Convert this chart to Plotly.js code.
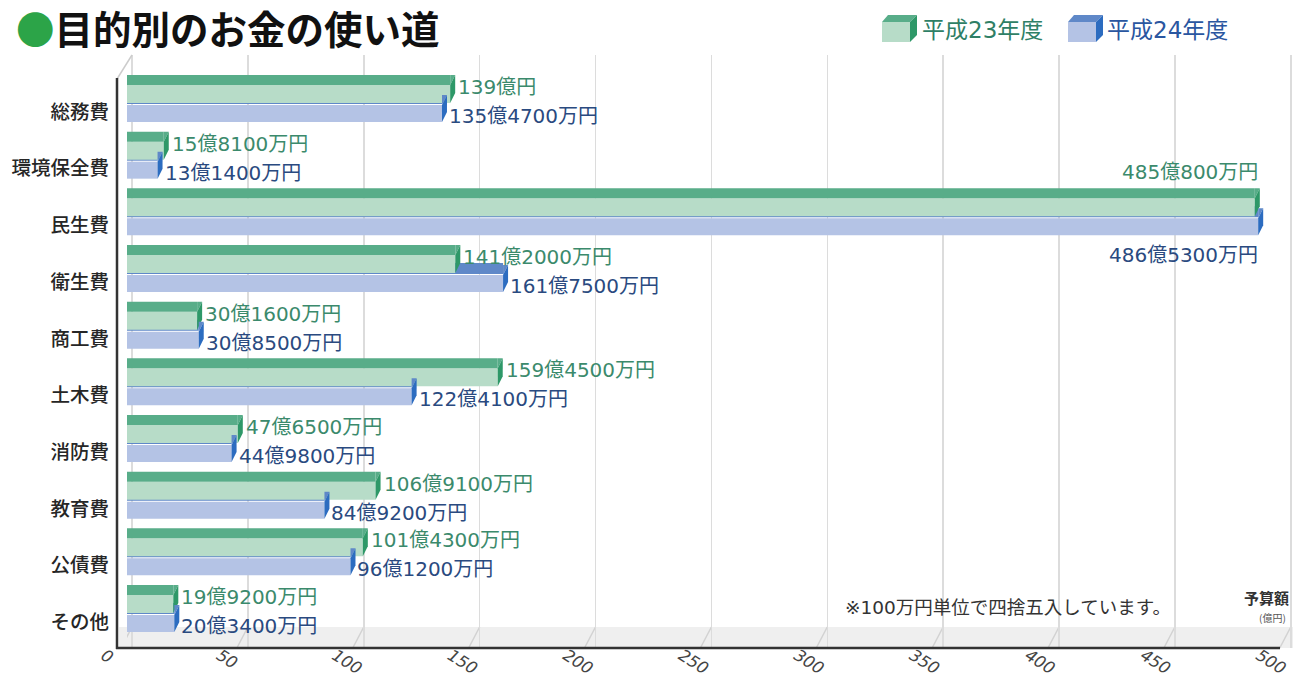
<!DOCTYPE html>
<html><head><meta charset="utf-8">
<script src="https://cdn.plot.ly/plotly-3.0.1.min.js"></script>
<style>html,body{margin:0;padding:0;background:#fff}#chart{width:1295px;height:680px}</style>
</head><body><div id="chart"></div>
<script>
// ---- data ----
const categories = ['総務費','環境保全費','民生費','衛生費','商工費','土木費','消防費','教育費','公債費','その他'];
const values2011 = [139.00, 15.81, 485.08, 141.20, 30.16, 159.45, 47.65, 106.91, 101.43, 19.92];
const values2012 = [135.47, 13.14, 486.53, 161.75, 30.85, 122.41, 44.98, 84.92, 96.12, 20.34];
const labels2011 = ['139億円','15億8100万円','485億800万円','141億2000万円','30億1600万円','159億4500万円','47億6500万円','106億9100万円','101億4300万円','19億9200万円'];
const labels2012 = ['135億4700万円','13億1400万円','486億5300万円','161億7500万円','30億8500万円','122億4100万円','44億9800万円','84億9200万円','96億1200万円','20億3400万円'];
const seriesNames = ['平成23年度','平成24年度'];
const xTicks = [0,50,100,150,200,250,300,350,400,450,500];
const titleText = '目的別のお金の使い道';
const noteText = '※100万円単位で四捨五入しています。';
const unitTitle = '予算額';
const unitSub = '(億円)';

// ---- geometry ----
const W = 1295, H = 680, L = 90, T = 55, B = 32;
const PW = W - L, PH = H - T - B;
const px = X => (X - L) / PW;            // page x -> paper
const py = Y => (T + PH - Y) / PH;       // page y -> paper
const P = 56.67;                          // category pitch px
const rTop = -(112 - T) / P;
const rBot = rTop + PH / P;
const u = d => d / P;                     // px -> category units

const C = {
  gTop: '#58ad89', gFront: '#b7dcc8', gCap: '#2e9868',
  bTop: '#5f88c8', bFront: '#b4c3e5', bCap: '#2c6cc0',
  gText: '#3b8a6c', bText: '#2a4a80'
};

function barTrace(vals, off, h, color) {
  return {type:'bar', orientation:'h', y:categories, x:vals, offset:u(off), width:u(h),
    marker:{color:color, line:{width:0}}, hoverinfo:'skip', showlegend:false, xaxis:'x', yaxis:'y'};
}
const traces = [
  barTrace(values2012, -19, 11, C.bTop),
  barTrace(values2011, -27, 18, C.gFront),
  barTrace(values2011, -37, 10, C.gTop),
  barTrace(values2012, -7, 17, C.bFront)
];

const shapes = [];
// floor
shapes.push({type:'rect', xref:'paper', yref:'paper', x0:px(119), x1:px(1293), y0:py(627), y1:py(648),
  fillcolor:'#efefef', line:{width:0}, layer:'between'});
xTicks.forEach(t => {
  shapes.push({type:'line', xref:'x2', yref:'paper', xsizemode:'pixel', xanchor:t, x0:0, x1:-11,
    y0:py(627), y1:py(648), line:{color:'#d2d2d2', width:1.5}, layer:'between'});
});
// walls / axes
shapes.push({type:'line', xref:'paper', yref:'paper', x0:px(117), x1:px(132), y0:py(79), y1:py(55), line:{color:'#cccccc', width:1.5}});
shapes.push({type:'line', xref:'paper', yref:'paper', x0:px(117), x1:px(117), y0:py(78), y1:py(649), line:{color:'#333333', width:2.5}});
shapes.push({type:'line', xref:'paper', yref:'paper', x0:px(116), x1:px(1280), y0:py(648), y1:py(648), line:{color:'#333333', width:2.5}});

// bar end caps
function caps(vals, topUp, frontTop, frontBot, topColor, capColor) {
  vals.forEach((v, i) => {
    const a = {xref:'x', yref:'y', xsizemode:'pixel', ysizemode:'pixel', xanchor:v, yanchor:i, type:'path', line:{width:0}};
    shapes.push(Object.assign({}, a, {path:`M0,${topUp} L5,${topUp} L0,${frontTop} Z`, fillcolor:topColor}));
    shapes.push(Object.assign({}, a, {path:`M0,${frontTop} L5,${topUp} L5,${frontBot+10} L0,${frontBot} Z`, fillcolor:capColor}));
  });
}
caps(values2011, 37, 27, 9, C.gTop, C.gCap);
caps(values2012, 17, 7, -10, C.bTop, C.bCap);

// legend icons
function cube(x0, color) {
  const f = color === 'g' ? [C.gFront, C.gTop, C.gCap] : [C.bFront, C.bTop, C.bCap];
  const X = v => px(v), Y = v => py(v);
  shapes.push({type:'rect', xref:'paper', yref:'paper', x0:X(x0), x1:X(x0+28), y0:Y(22), y1:Y(42), fillcolor:f[0], line:{width:0}});
  shapes.push({type:'path', xref:'paper', yref:'paper', fillcolor:f[1], line:{width:0},
    path:`M${X(x0)},${Y(22)} L${X(x0+6)},${Y(15)} L${X(x0+35)},${Y(15)} L${X(x0+28)},${Y(22)} Z`});
  shapes.push({type:'path', xref:'paper', yref:'paper', fillcolor:f[2], line:{width:0},
    path:`M${X(x0+28)},${Y(22)} L${X(x0+35)},${Y(15)} L${X(x0+35)},${Y(35)} L${X(x0+28)},${Y(42)} Z`});
}
cube(882, 'g');
cube(1068, 'b');

const FONT = '"Noto Sans CJK JP", "Noto Sans", sans-serif';
const NUMFONT = '"DejaVu Sans", "Noto Sans CJK JP", sans-serif';
const annotations = [];
const maxV = Math.max(...values2011, ...values2012);
categories.forEach((c, i) => {
  const big = values2011[i] > 0.8 * maxV;
  const xr = Math.max(values2011[i], values2012[i]);
  annotations.push({xref:'x', yref:'y', x: big ? xr : values2011[i], y:i,
    text:labels2011[i], showarrow:false, xanchor: big ? 'right' : 'left', yanchor:'middle',
    xshift: big ? 2 : 6, yshift: big ? 53 : 25, font:{family:NUMFONT, size:20, color:C.gText}});
  annotations.push({xref:'x', yref:'y', x: big ? xr : values2012[i], y:i,
    text:labels2012[i], showarrow:false, xanchor: big ? 'right' : 'left', yanchor:'middle',
    xshift: big ? 2 : 5, yshift: big ? -30 : -4, font:{family:NUMFONT, size:20, color:C.bText}});
});
annotations.push({xref:'paper', yref:'paper', x:px(14), y:py(27), xanchor:'left', yanchor:'middle', showarrow:false,
  text:`<span style="color:#2ca448">●</span><b>${titleText}</b>`, font:{family:FONT, size:38.5, color:'#111'}});
annotations.push({xref:'paper', yref:'paper', x:px(920), y:py(30), xanchor:'left', yanchor:'middle', showarrow:false,
  text:seriesNames[0], font:{family:NUMFONT, size:23, color:'#2f7f66'}});
annotations.push({xref:'paper', yref:'paper', x:px(1105), y:py(30), xanchor:'left', yanchor:'middle', showarrow:false,
  text:seriesNames[1], font:{family:NUMFONT, size:23, color:'#2a56a0'}});
annotations.push({xref:'paper', yref:'paper', x:px(843), y:py(607), xanchor:'left', yanchor:'middle', showarrow:false,
  text:noteText, font:{family:NUMFONT, size:18.5, color:'#333'}});
annotations.push({xref:'paper', yref:'paper', x:px(1291), y:py(597), xanchor:'right', yanchor:'middle', showarrow:false,
  text:`<b>${unitTitle}</b>`, font:{family:FONT, size:15, color:'#333'}});
annotations.push({xref:'paper', yref:'paper', x:px(1288), y:py(617), xanchor:'right', yanchor:'middle', showarrow:false,
  text:unitSub, font:{family:FONT, size:10, color:'#555'}});

const layout = {
  width:W, height:H, margin:{l:L, r:0, t:T, b:B}, paper_bgcolor:'#fff', plot_bgcolor:'rgba(0,0,0,0)',
  barmode:'overlay', showlegend:false, hovermode:false,
  xaxis:{domain:[px(127),1], range:[0,(W-127)/2.325], showgrid:false, zeroline:false, showline:false,
    showticklabels:false, ticks:'', anchor:'y'},
  xaxis2:{overlaying:'x', range:[(127-132)/2.3175,(W-132)/2.3175], tick0:0, dtick:50, showgrid:true,
    gridcolor:'#dcdcdc', gridwidth:1.5, zeroline:false, showline:false, showticklabels:false, ticks:'', anchor:'y'},
  xaxis3:{domain:[0,1], anchor:'y', range:[(L-104)/2.31,(W-104)/2.31], tickmode:'array', tickvals:xTicks,
    ticktext:xTicks.map(String), tickangle:32, showgrid:false, zeroline:false, showline:false, ticks:'',
    ticklabelstandoff:-6, tickfont:{family:'"DejaVu Sans", sans-serif', size:16.5, color:'#444', style:'italic'}},
  yaxis:{type:'category', categoryorder:'array', categoryarray:categories, range:[rBot, rTop], anchor:'x',
    showgrid:false, zeroline:false, showline:false, ticks:'', ticklabelstandoff:17,
    tickfont:{family:FONT, size:19.5, color:'#262626', weight:500}},
  shapes:shapes, annotations:annotations
};
traces.push({type:'scatter', x:[], y:[], xaxis:'x3', yaxis:'y', hoverinfo:'skip', showlegend:false});
traces.push({type:'scatter', x:[], y:[], xaxis:'x2', yaxis:'y', hoverinfo:'skip', showlegend:false});
Plotly.newPlot('chart', traces, layout, {staticPlot:true, displayModeBar:false});
</script></body></html>
